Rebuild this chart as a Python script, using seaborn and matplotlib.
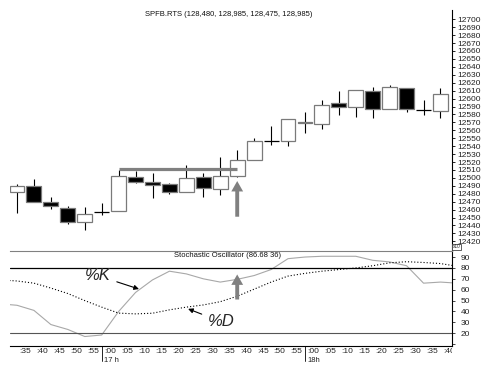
import numpy as np
import matplotlib
matplotlib.use("Agg")
import matplotlib.pyplot as plt
from matplotlib.transforms import Bbox, TransformedBbox
import seaborn as sns

# ---------------- data ----------------
time_labels = [":35", ":40", ":45", ":50", ":55", ":00", ":05", ":10", ":15", ":20",
               ":25", ":30", ":35", ":40", ":45", ":50", ":55", ":00", ":05", ":10",
               ":15", ":20", ":25", ":30", ":35", ":40"]
hour_labels = ["17 h", "18h"]
hour_positions = [5, 17]

opens  = [12482, 12490, 12469.5, 12462.5, 12444, 12457.5, 12458, 12501.5, 12494.5, 12492.5,
          12482.5, 12501.5, 12486.5, 12502.5, 12522.5, 12546.5, 12546, 12571, 12568.5, 12594,
          12589, 12610, 12586.5, 12613, 12585.5, 12584.5]
highs  = [12492, 12498, 12475.5, 12464.5, 12463, 12468, 12510, 12509, 12506.5, 12494,
          12516, 12506.5, 12526, 12535, 12550, 12565.5, 12574, 12583.5, 12598, 12609.5,
          12611, 12614, 12617, 12613, 12598, 12613]
lows   = [12456, 12470, 12460.5, 12441.5, 12434, 12453, 12458, 12493, 12474, 12479.5,
          12482.5, 12475.5, 12478.5, 12500.5, 12522.5, 12541, 12540, 12557, 12561, 12579,
          12576.5, 12575, 12586.5, 12583.5, 12579, 12575]
closes = [12490, 12470, 12464.5, 12444, 12454.5, 12456.5, 12502.5, 12494.5, 12491, 12482.5,
          12499.5, 12487, 12502.5, 12522.5, 12546.5, 12546, 12574, 12569, 12592.5, 12589,
          12611, 12587, 12614.5, 12586.5, 12585.5, 12605.5]

# stochastic oscillator (index -1 .. 26, ends clipped by axes)
stoch_index = list(range(-1, 27))
pct_k = [47, 45.7, 41, 28, 23.5, 17, 18.4, 40, 57.5, 69, 77, 74.5, 70, 67, 69.5, 73, 78.5,
         88.5, 90, 90.7, 90.7, 90.7, 87, 85.5, 82, 66, 67, 66]
pct_d = [69, 68, 66, 61.5, 56.5, 50, 44, 38.5, 37.8, 38.4, 41.5, 44, 46, 49, 54, 60.5, 67,
         72.5, 75, 77, 78.5, 80, 82, 84.7, 85.7, 85, 84, 81.5]

resist_level = 12511
resist_from, resist_to = 6, 13
signal_bar = 13
price_arrow = (12451, 12496)
stoch_arrow = (51, 74)
overbought, oversold = 80, 20

title = "SPFB.RTS (128,480, 128,985, 128,475, 128,985)"
stoch_title = "Stochastic Oscillator (86.68 36)"

# ---------------- figure ----------------
sns.set_style("white")
plt.rcParams['font.family'] = ['Liberation Sans', 'DejaVu Sans']

W, H = 489, 366
fig = plt.figure(figsize=(W / 100, H / 100), dpi=100)


def rect(x0, y0, x1, y1):
    return [x0 / W, 1 - y1 / H, (x1 - x0) / W, (y1 - y0) / H]


ax = fig.add_axes(rect(10, 10, 452, 250.5))
ax2 = fig.add_axes(rect(10, 250.5, 452, 346))

xlim = (-0.413, 25.68)
idx = np.arange(len(opens))
o = np.array(opens); c = np.array(closes)
up = c > o
body_bottom = np.minimum(o, c)
body_h = np.abs(c - o)
face = np.where(up, 'white', 'black')
edge = np.where(body_h < 1.5, 'black', '#7a7a7a')

ax.vlines(idx, lows, highs, color='black', lw=0.8, zorder=1)
ax.bar(idx, body_h, bottom=body_bottom, width=0.88, color=face,
       edgecolor=edge, linewidth=0.9, zorder=2)
ax.hlines(resist_level, resist_from, resist_to, color='#808080', lw=2.3, zorder=3)
ax.annotate('', xy=(signal_bar, price_arrow[1]), xytext=(signal_bar, price_arrow[0]),
            arrowprops=dict(facecolor='#808080', edgecolor='none', width=2.8,
                            headwidth=8.5, headlength=7.5, shrink=0))

ax.set_xlim(*xlim)
ax.set_ylim(12408.4, 12711.7)
for s in ['left', 'top', 'bottom']:
    ax.spines[s].set_visible(False)
ax.spines['right'].set_color('black')
ax.spines['right'].set_linewidth(0.8)
ax.yaxis.tick_right()
ax.set_yticks(np.arange(12420, 12701, 10))
ax.tick_params(axis='y', which='major', length=2.5, width=0.6, pad=1,
               labelsize=6, labelcolor='#222222', color='black')
ax.set_xticks([])

fig.text(229 / W, 1 - 15 / H, title, ha='center', va='center', fontsize=5.5, color='#111111')
fig.text(456.5 / W, 1 - 247 / H, "x10", ha='center', va='center', fontsize=3.4,
         bbox=dict(boxstyle='square,pad=0.12', fc='white', ec='#444444', lw=0.6))

# ---------------- oscillator ----------------
sns.lineplot(x=stoch_index, y=pct_k, ax=ax2, color='#a8a8a8', lw=0.8)
sns.lineplot(x=stoch_index, y=pct_d, ax=ax2, color='black', lw=0.8, linestyle=(0, (1, 1.8)))
ax2.axhline(overbought, color='black', lw=0.9)
ax2.axhline(oversold, color='#555555', lw=0.8)

ax2.annotate('', xy=(signal_bar, stoch_arrow[1]), xytext=(signal_bar, stoch_arrow[0]),
             arrowprops=dict(facecolor='#808080', edgecolor='none', width=2.8,
                             headwidth=8.5, headlength=7.5, shrink=0))
ax2.annotate('%K', xy=(7.2, 60.6), xytext=(4.78, 72.9), ha='center', va='center',
             fontsize=12, style='italic',
             arrowprops=dict(arrowstyle='-|>', color='black', lw=0.8, mutation_scale=7,
                             shrinkA=2, shrinkB=0))
ax2.annotate('%D', xy=(10.1, 42.4), xytext=(12.04, 30.7), ha='center', va='center',
             fontsize=12, style='italic',
             arrowprops=dict(arrowstyle='-|>', color='black', lw=0.8, mutation_scale=7,
                             shrinkA=2, shrinkB=0))
fig.text(228 / W, 1 - 255.7 / H, stoch_title, ha='center', va='center', fontsize=5.5,
         color='#111111')

ax2.set_xlim(*xlim)
ax2.set_ylim(8.3, 96)
ax2.set_xlabel(''); ax2.set_ylabel('')
ax2.spines['left'].set_visible(False)
ax2.spines['top'].set_color('#808080')
ax2.spines['top'].set_linewidth(0.8)
for s in ['right', 'bottom']:
    ax2.spines[s].set_color('black')
    ax2.spines[s].set_linewidth(0.8)
ax2.yaxis.tick_right()
ax2.set_yticks(np.arange(10, 91, 10))
ax2.set_yticklabels([''] + [str(v) for v in range(20, 91, 10)])
ax2.tick_params(axis='y', length=2.5, width=0.6, pad=4, labelsize=6, labelcolor='#222222')

ax2.set_xticks(idx)
ax2.set_xticklabels([])
ax2.set_xticks(idx + 0.5, minor=True)
ax2.set_xticklabels(time_labels, minor=True)
ax2.tick_params(axis='x', which='major', length=6.5, width=0.6, direction='out', color='black')
ax2.tick_params(axis='x', which='minor', length=0, pad=1.5, labelsize=6, labelcolor='#222222')

clip_box = TransformedBbox(Bbox([[0, 0], [452 / W, 1]]), fig.transFigure)
for lab in ax2.get_xticklabels(minor=True):
    lab.set_clip_box(clip_box)
    lab.set_clip_on(True)

xt = ax2.get_xaxis_transform()
for pos, lab in zip(hour_positions, hour_labels):
    ax2.plot([pos, pos], [0, -0.157], transform=xt, color='black', lw=0.6, clip_on=False)
    ax2.text(pos + 0.12, -0.148, lab, transform=xt, fontsize=5.5, va='center', ha='left',
             color='#222222')

fig.savefig("out.png", dpi=100)
